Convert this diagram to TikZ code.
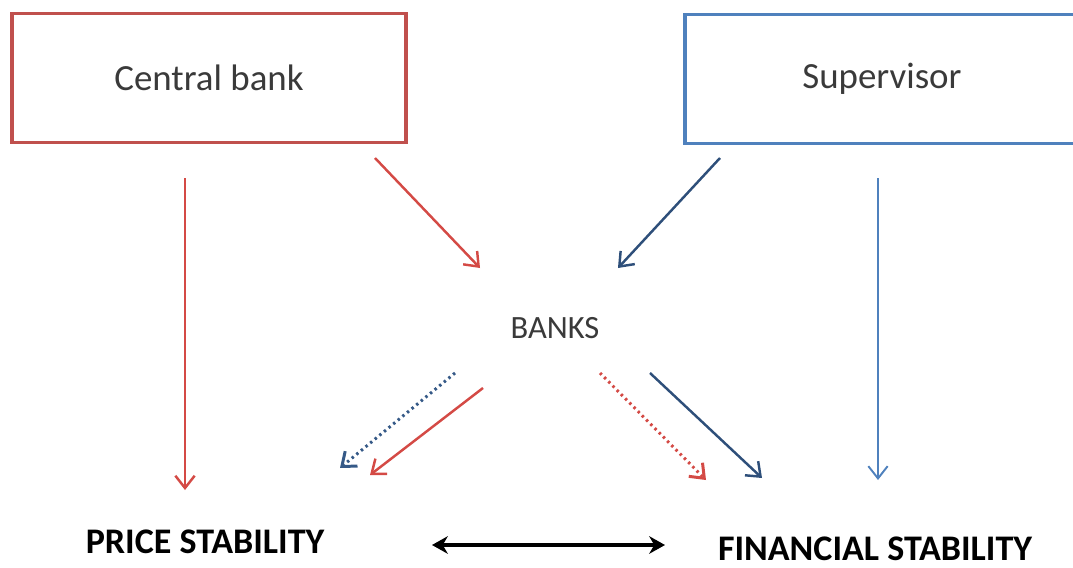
\documentclass[tikz,border=0pt]{standalone}
\usepackage{fontspec}
\setmainfont{Carlito}
\usetikzlibrary{arrows.meta}
\definecolor{cbred}{HTML}{C0504D}
\definecolor{arrred}{HTML}{D44A45}
\definecolor{supblue}{HTML}{4F81BD}
\definecolor{darkblue}{HTML}{2E4F7A}
\definecolor{txtgray}{HTML}{3A3A3A}
\tikzset{
  actor/.style={draw, line width=2pt, minimum width=7.88cm, minimum height=2.58cm,
    font=\fontsize{21}{24}\selectfont, text=txtgray},
  goal/.style={font=\bfseries\fontsize{20.5}{24}\selectfont},
  link/.style={-{Straight Barb[length=7pt,width=11pt]}, line width=1.4pt},
  hint/.style={link, dotted, line width=1.7pt}
}
\begin{document}
\begin{tikzpicture}[x=0.02cm,y=-0.02cm]
  \useasboundingbox (0,0) rectangle (1073,568);
  \draw
    (209,78) node[actor, draw=cbred] (cb){Central bank}
    (882,79) node[actor, draw=supblue] (sup){Supervisor}
    (555,328) node[font=\fontsize{18.5}{22}\selectfont, text=txtgray] (banks){BANKS}
    (205,542) node[goal] (price){PRICE STABILITY}
    (875,549) node[goal] (fin){FINANCIAL STABILITY};
  % arrow ends
  \coordinate (cb-down) at (185,178);   \coordinate (ps-top) at (185,490);
  \coordinate (cb-banks) at (375,158);  \coordinate (banks-l) at (480,268);
  \coordinate (sup-banks) at (720,158); \coordinate (banks-r) at (618,268);
  \coordinate (sup-down) at (878,178);  \coordinate (fs-top) at (878,480);
  \coordinate (bk-a) at (455,373);      \coordinate (ps-a) at (340,468);
  \coordinate (bk-b) at (483,388);      \coordinate (ps-b) at (370,475);
  \coordinate (bk-c) at (600,373);      \coordinate (fs-c) at (706,480);
  \coordinate (bk-d) at (650,373);      \coordinate (fs-d) at (762,478);
  \coordinate (ps-r) at (432,545);      \coordinate (fs-l) at (665,545);
  \begin{scope}[link]
    \draw[arrred] (cb-down) to (ps-top);
    \draw[arrred] (cb-banks) to (banks-l);
    \draw[darkblue] (sup-banks) to (banks-r);
    \draw[supblue, line width=1.1pt] (sup-down) to (fs-top);
    \draw[hint, darkblue!80!supblue] (bk-a) to (ps-a);
    \draw[arrred] (bk-b) to (ps-b);
    \draw[hint, arrred] (bk-c) to (fs-c);
    \draw[darkblue] (bk-d) to (fs-d);
  \end{scope}
  \draw[{Stealth[length=9pt,width=10pt]}-{Stealth[length=9pt,width=10pt]}, line width=2.2pt]
    (ps-r) -- (fs-l);
\end{tikzpicture}
\end{document}
